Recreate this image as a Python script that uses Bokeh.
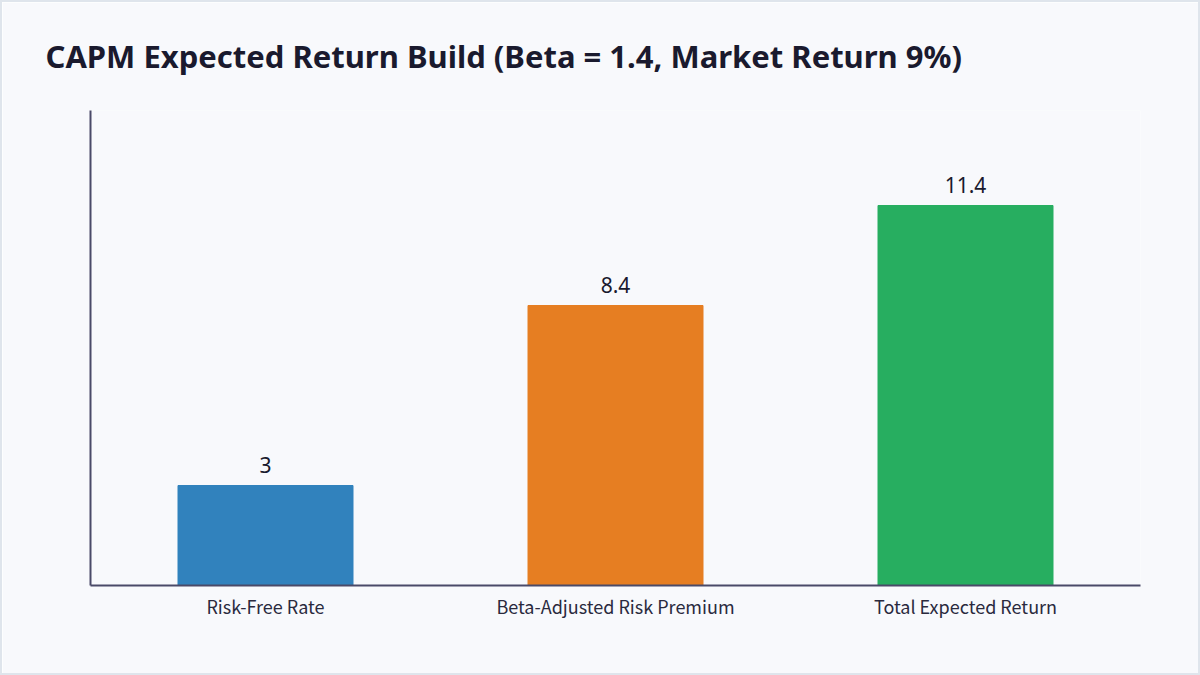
from bokeh.plotting import figure
from bokeh.models import ColumnDataSource, LabelSet
from bokeh.core.properties import value
from bokeh.embed import file_html
from bokeh.resources import INLINE

# data
categories = ["Risk-Free Rate", "Beta-Adjusted Risk Premium", "Total Expected Return"]
values = [3, 8.4, 11.4]
colors = ["#3182bd", "#e67e22", "#27ae60"]
labels = ["3", "8.4", "11.4"]

FONT = "Noto Sans CJK KR"
BG = "#f8f9fc"

src = ColumnDataSource(data=dict(cat=categories, val=values, color=colors, lab=labels))

p = figure(x_range=categories, y_range=(0, max(values) * 1.25),
           width=1200, height=675, output_backend="svg", toolbar_location=None,
           title="CAPM Expected Return Build (Beta = 1.4, Market Return 9%)",
           min_border_left=88, min_border_right=62, min_border_top=103, min_border_bottom=92)

p.background_fill_color = BG
p.border_fill_color = BG
p.outline_line_color = None
p.styles = {"border": "2px solid #dfe5ec", "box-sizing": "border-box"}

p.title.text_font = "Noto Sans"
p.title.text_font_size = "31px"
p.title.text_font_style = "bold"
p.title.text_color = "#1a1a2e"
p.title.offset = -45
p.title.standoff = 64
p.title.vertical_align = "top"

p.vbar(x="cat", top="val", width=0.5, color="color", source=src)

p.add_layout(LabelSet(x="cat", y="val", text="lab", source=src, text_align="center",
                      text_baseline="bottom", y_offset=13, text_font=value("Noto Sans"),
                      text_font_size="21px", text_color="#1a1a2e"))

p.xgrid.visible = False
p.ygrid.visible = False

for ax in (p.xaxis, p.yaxis):
    ax.axis_line_color = "#4a4a68"
    ax.axis_line_width = 2
    ax.major_tick_line_color = None
    ax.minor_tick_line_color = None

p.yaxis.major_label_text_font_size = "0px"
p.xaxis.major_label_text_font = FONT
p.xaxis.major_label_text_font_size = "18px"
p.xaxis.major_label_text_color = "#2a2a3e"
p.xaxis.major_label_standoff = 1

open("out.html", "w").write(file_html(p, INLINE))
